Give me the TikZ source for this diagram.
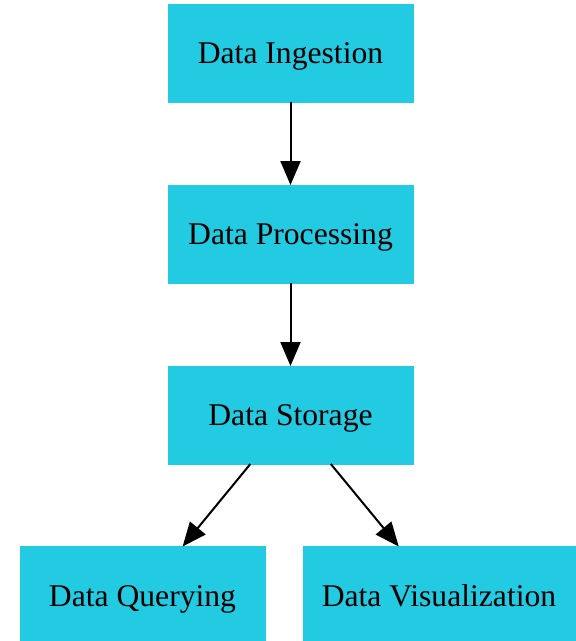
\documentclass[tikz,border=0pt]{standalone}
\usepackage{fontspec}
\setmainfont{Liberation Serif}
\usepackage{tkz-graph}
\usetikzlibrary{arrows.meta}
\definecolor{boxcyan}{HTML}{22CAE2}

\begin{document}
\begin{tikzpicture}
    \useasboundingbox (0,0) rectangle (20.16,-22.435);
    \GraphInit[vstyle=Normal]\SetGraphUnit{6.335}
    \tikzset{VertexStyle/.style={draw=boxcyan, fill=boxcyan, shape=rectangle,
        minimum width=8.575cm, minimum height=3.43cm, inner sep=0pt,
        text height=21pt, text depth=0pt,
        text=black, font=\fontsize{31.5}{38}\selectfont}}
    \tikzset{EdgeStyle/.style={draw, black, line width=2pt,
        -{Triangle[length=0.84cm,width=0.7cm]}}}
    \Vertex[x=10.1675,y=-1.855,L=Data Ingestion]{ing}
    \Vertex[x=10.1675,y=-8.19,L=Data Processing]{proc}
    \Vertex[x=10.1675,y=-14.525,L=Data Storage]{sto}
    \Vertex[x=4.9875,y=-20.8425,L=Data Querying]{qry}
    \tikzset{VertexStyle/.append style={minimum width=9.52cm}}
    \Vertex[x=15.365,y=-20.8425,L=Data Visualization]{vis}
    \Edges(ing, proc)
    \Edges(proc, sto)
    \Edges(sto, qry)
    \Edges(sto, vis)
    \end{tikzpicture}
\end{document}
